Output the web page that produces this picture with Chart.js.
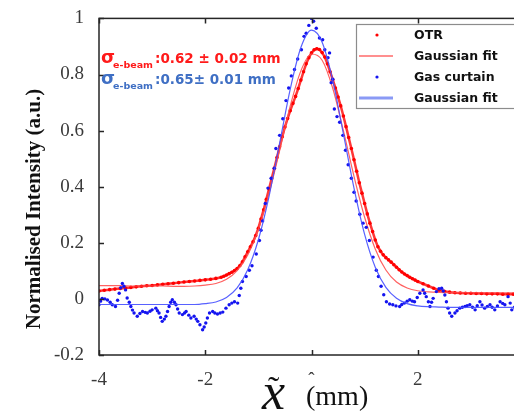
<!DOCTYPE html>
<html lang="en">
<head>
<meta charset="UTF-8">
<title>Normalised intensity profile</title>
<style>
  html, body { margin: 0; padding: 0; background: #fff; overflow: hidden; }
  #wrap { width: 540px; height: 412px; }
</style>
</head>
<body>
<div id="wrap"><canvas id="profileChart" width="540" height="412"></canvas></div>
<script src="https://cdn.jsdelivr.net/npm/chart.js"></script>
<script>
// OTR profile (mm, normalised)
const otrX = [-4.0, -3.9, -3.8, -3.7, -3.6, -3.5, -3.4, -3.3, -3.2, -3.1, -3.0, -2.9, -2.8, -2.7, -2.6, -2.5,
  -2.4, -2.3, -2.2, -2.1, -2.0, -1.9, -1.8, -1.7,
  -1.65, -1.6, -1.55, -1.5, -1.45, -1.4, -1.35, -1.3, -1.25, -1.2, -1.15, -1.1, -1.05, -1.0, -0.95, -0.9,
  -0.85, -0.8, -0.75, -0.7, -0.65, -0.6, -0.55, -0.5, -0.45, -0.4, -0.35, -0.3, -0.25, -0.2, -0.15, -0.1,
  -0.05, 0.0, 0.05, 0.1, 0.15, 0.2, 0.25, 0.3, 0.35, 0.4, 0.45, 0.5, 0.55, 0.6, 0.65, 0.7, 0.75, 0.8,
  0.85, 0.9, 0.95, 1.0, 1.05, 1.1, 1.15, 1.2, 1.25, 1.3, 1.35, 1.4, 1.45, 1.5, 1.55, 1.6, 1.65, 1.7,
  1.75, 1.8, 1.85, 1.9, 1.95, 2.0,
  2.1, 2.2, 2.3, 2.4, 2.5, 2.6, 2.7, 2.8, 2.9, 3.0, 3.1, 3.2, 3.3, 3.4, 3.5, 3.6, 3.7, 3.8, 3.9, 4.0];
const otrY = [0.028, 0.031, 0.033, 0.035, 0.037, 0.039, 0.041, 0.043, 0.045, 0.047, 0.048, 0.050, 0.052, 0.054, 0.056, 0.058,
  0.060, 0.062, 0.064, 0.066, 0.068, 0.070, 0.073, 0.077,
  0.081, 0.085, 0.090, 0.095, 0.101, 0.108, 0.118, 0.132, 0.150, 0.168, 0.186, 0.204, 0.226, 0.252, 0.285, 0.318,
  0.355, 0.392, 0.429, 0.466, 0.504, 0.542, 0.578, 0.613, 0.643, 0.671, 0.697, 0.722, 0.750, 0.780, 0.810, 0.838,
  0.860, 0.877, 0.888, 0.892, 0.889, 0.878, 0.862, 0.838, 0.810, 0.782, 0.752, 0.720, 0.688, 0.652, 0.614, 0.575, 0.536, 0.496,
  0.455, 0.414, 0.377, 0.340, 0.303, 0.270, 0.240, 0.210, 0.186, 0.170, 0.157, 0.147, 0.139, 0.131, 0.122, 0.113, 0.104, 0.096,
  0.089, 0.083, 0.077, 0.072, 0.067, 0.062,
  0.054, 0.046, 0.038, 0.031, 0.027, 0.024, 0.022, 0.021, 0.020, 0.020, 0.019, 0.019, 0.018, 0.018, 0.018, 0.017, 0.017, 0.017, 0.017, 0.016];

// gas curtain profile
const gasX = [-4.00, -3.97, -3.94, -3.89, -3.84, -3.79, -3.75, -3.69, -3.65, -3.62, -3.59, -3.56, -3.53, -3.50, -3.47, -3.43,
  -3.40, -3.37, -3.34, -3.28, -3.23, -3.18, -3.13, -3.09, -3.04, -3.00, -2.93, -2.90, -2.87, -2.84, -2.81, -2.77,
  -2.74, -2.71, -2.68, -2.65, -2.62, -2.58, -2.55, -2.52, -2.49, -2.43, -2.39, -2.36, -2.31, -2.27, -2.21, -2.17,
  -2.14, -2.10, -2.05, -2.02, -1.99, -1.96, -1.92, -1.86, -1.82, -1.77, -1.72, -1.67, -1.61, -1.55, -1.50, -1.45,
  -1.39, -1.36, -1.33, -1.30, -1.23, -1.17, -1.12, -1.04, -0.98, -0.95, -0.92, -0.87, -0.82, -0.76, -0.70, -0.67,
  -0.60, -0.54, -0.48, -0.43, -0.38, -0.32, -0.26, -0.19, -0.14, -0.10, -0.05, 0.00, 0.04, 0.09, 0.15, 0.21,
  0.25, 0.31, 0.34, 0.37, 0.40, 0.43, 0.48, 0.53, 0.59, 0.64, 0.69, 0.75, 0.80, 0.84, 0.91, 0.97,
  1.03, 1.09, 1.16, 1.22, 1.26, 1.31, 1.36, 1.41, 1.47, 1.53, 1.59, 1.66, 1.70, 1.75, 1.80, 1.85,
  1.90, 1.94, 1.99, 2.04, 2.10, 2.13, 2.16, 2.20, 2.23, 2.26, 2.29, 2.35, 2.40, 2.45, 2.48, 2.51,
  2.54, 2.57, 2.60, 2.64, 2.70, 2.74, 2.79, 2.84, 2.89, 2.93, 2.98, 3.03, 3.08, 3.12, 3.17, 3.21,
  3.26, 3.31, 3.36, 3.40, 3.45, 3.50, 3.55, 3.60, 3.64, 3.70, 3.74, 3.77, 3.82, 3.88];
const gasY = [-0.021, -0.008, 0.002, 0.000, -0.004, -0.012, -0.021, -0.027, -0.005, 0.020, 0.040, 0.055, 0.045, 0.032, 0.003, -0.012,
  -0.027, -0.040, -0.050, -0.062, -0.052, -0.045, -0.048, -0.050, -0.044, -0.039, -0.033, -0.042, -0.050, -0.066, -0.080, -0.072,
  -0.062, -0.045, -0.027, -0.012, -0.003, -0.012, -0.021, -0.036, -0.050, -0.056, -0.050, -0.045, -0.058, -0.068, -0.062, -0.072,
  -0.080, -0.092, -0.110, -0.100, -0.086, -0.068, -0.050, -0.045, -0.050, -0.054, -0.050, -0.047, -0.033, -0.021, -0.015, -0.010,
  -0.015, 0.012, 0.038, 0.062, 0.080, 0.102, 0.118, 0.160, 0.208, 0.245, 0.278, 0.340, 0.395, 0.430, 0.466, 0.536,
  0.583, 0.642, 0.707, 0.752, 0.795, 0.818, 0.855, 0.888, 0.936, 0.947, 0.975, 1.000, 0.990, 0.965, 0.930, 0.924,
  0.888, 0.860, 0.877, 0.771, 0.783, 0.677, 0.650, 0.630, 0.583, 0.530, 0.478, 0.430, 0.380, 0.349, 0.302, 0.270,
  0.255, 0.208, 0.149, 0.102, 0.080, 0.045, 0.015, -0.010, -0.018, -0.021, -0.025, -0.027, -0.020, -0.015, -0.008, -0.003,
  -0.008, -0.010, 0.005, 0.020, 0.032, 0.020, 0.008, -0.010, -0.027, -0.012, 0.002, 0.026, 0.036, 0.038, 0.028, 0.014,
  -0.010, -0.033, -0.050, -0.062, -0.050, -0.042, -0.033, -0.030, -0.027, -0.024, -0.021, -0.030, -0.039, -0.024, -0.010, -0.022,
  -0.033, -0.027, -0.021, -0.030, -0.039, -0.025, -0.010, -0.016, -0.021, 0.008, -0.015, -0.039, -0.030, -0.035];

// gaussian fit curves, sampled every 0.2 mm
const fitX = [-4.0, -3.8, -3.6, -3.4, -3.2, -3.0, -2.8, -2.6, -2.4, -2.2, -2.0, -1.8, -1.6, -1.4, -1.2, -1.0, -0.8,
  -0.6, -0.4, -0.2, 0.0, 0.2, 0.4, 0.6, 0.8, 1.0, 1.2, 1.4, 1.6, 1.8, 2.0, 2.2, 2.4, 2.6, 2.8, 3.0, 3.2, 3.4,
  3.6, 3.8, 4.0];
const otrFitY = [0.047, 0.047, 0.047, 0.046, 0.046, 0.046, 0.046, 0.045, 0.045, 0.046, 0.049, 0.055, 0.070, 0.101,
  0.157, 0.247, 0.375, 0.529, 0.688, 0.813, 0.873, 0.851, 0.751, 0.600, 0.437, 0.291, 0.178, 0.103, 0.060, 0.039,
  0.029, 0.025, 0.023, 0.022, 0.022, 0.022, 0.022, 0.022, 0.022, 0.022, 0.022];
const gasFitY = [-0.020, -0.020, -0.020, -0.020, -0.020, -0.020, -0.020, -0.020, -0.020, -0.020, -0.017, -0.011, 0.005,
  0.039, 0.104, 0.211, 0.365, 0.555, 0.748, 0.896, 0.958, 0.915, 0.779, 0.589, 0.395, 0.230, 0.113, 0.041, 0.002,
  -0.017, -0.025, -0.028, -0.029, -0.030, -0.030, -0.030, -0.030, -0.030, -0.030, -0.030, -0.030];

const xTickValues = [-4, -2, 0, 2, 4];
const xTickLabels = ['-4', '-2', 'ˆ', '2', '4'];
const yTickValues = [-0.2, 0, 0.2, 0.4, 0.6, 0.8, 1];
const yTickLabels = ['-0.2', '0', '0.2', '0.4', '0.6', '0.8', '1'];

const seriesLabels = ['OTR', 'Gaussian fit', 'Gas curtain', 'Gaussian fit'];
const sigmaLines = [
  { value: ':0.62 ± 0.02 mm', color: '#ff1a1a' },
  { value: ':0.65± 0.01 mm', color: '#3f6fc4' }
];

const serif = '"Liberation Serif", "Times New Roman", serif';
const sans = '"DejaVu Sans", Verdana, sans-serif';

const toPoints = (xs, ys) => xs.map((x, i) => ({ x: x, y: ys[i] }));

// frame, inward ticks, legend box, sigma labels and axis titles
const decorations = {
  id: 'decorations',
  afterDraw(chart) {
    const ctx = chart.ctx;
    const a = chart.chartArea;
    const xs = chart.scales.x, ys = chart.scales.y;
    ctx.save();

    ctx.strokeStyle = '#262626';
    ctx.lineWidth = 1.5;
    ctx.strokeRect(a.left, a.top, a.right - a.left, a.bottom - a.top);
    ctx.beginPath();
    xTickValues.forEach(v => {
      const px = Math.round(xs.getPixelForValue(v)) + 0.5;
      ctx.moveTo(px, a.bottom); ctx.lineTo(px, a.bottom - 5);
      ctx.moveTo(px, a.top); ctx.lineTo(px, a.top + 5);
    });
    yTickValues.forEach(v => {
      const py = Math.round(ys.getPixelForValue(v)) + 0.5;
      ctx.moveTo(a.left, py); ctx.lineTo(a.left + 5, py);
    });
    ctx.stroke();

    // legend
    const lx = 356.5, ly = 24.5;
    ctx.fillStyle = '#fff';
    ctx.fillRect(lx, ly, 170, 84);
    ctx.strokeStyle = '#8c8c8c';
    ctx.lineWidth = 1.2;
    ctx.strokeRect(lx, ly, 170, 84);
    const rows = [35, 56, 77, 98];
    const ds = chart.data.datasets;
    ctx.font = 'bold 12.5px ' + sans;
    ctx.textBaseline = 'middle';
    ds.forEach((d, i) => {
      const y = rows[i];
      if (d.showLine === false || d.kind === 'dots') {
        ctx.fillStyle = d.pointBackgroundColor;
        ctx.beginPath();
        ctx.arc(377, y, 1.6, 0, Math.PI * 2);
        ctx.fill();
      } else {
        ctx.strokeStyle = d.legendColor;
        ctx.lineWidth = d.legendWidth;
        ctx.beginPath();
        ctx.moveTo(359, y); ctx.lineTo(393, y);
        ctx.stroke();
      }
      ctx.fillStyle = '#111';
      ctx.textAlign = 'left';
      ctx.fillText(d.label, 414, y + 1);
    });

    // sigma annotations
    ctx.textBaseline = 'alphabetic';
    sigmaLines.forEach((s, i) => {
      const base = 63 + i * 21;
      ctx.fillStyle = s.color;
      ctx.font = 'bold 18px ' + sans;
      ctx.fillText('σ', 101, base);
      ctx.font = 'bold 9.5px ' + sans;
      ctx.fillText('e-beam', 113, base + 5);
      ctx.font = 'bold 13.5px ' + sans;
      ctx.fillText(s.value, 155, base);
    });

    // y title
    ctx.fillStyle = '#111';
    ctx.font = 'bold 21px ' + serif;
    ctx.textAlign = 'center';
    ctx.textBaseline = 'middle';
    ctx.translate(35, 209);
    ctx.rotate(-Math.PI / 2);
    ctx.fillText('Normalised Intensity (a.u.)', 0, 0);
    ctx.setTransform(1, 0, 0, 1, 0, 0);

    // x title
    ctx.textBaseline = 'alphabetic';
    ctx.textAlign = 'left';
    ctx.font = 'italic 52px ' + serif;
    ctx.fillText('x', 262, 409);
    ctx.font = '34px ' + serif;
    ctx.fillText('˜', 268, 400);
    ctx.font = '28px ' + serif;
    ctx.fillText('(mm)', 306, 405);

    ctx.restore();
  }
};

new Chart(document.getElementById('profileChart'), {
  type: 'scatter',
  data: {
    datasets: [
      {
        label: seriesLabels[0],
        kind: 'dots',
        data: toPoints(otrX, otrY),
        showLine: true,
        borderColor: 'rgba(255, 20, 20, 0.85)',
        borderWidth: 2.5,
        pointRadius: 1.8,
        pointBorderWidth: 0,
        pointBackgroundColor: '#ff0000',
        order: 3
      },
      {
        label: seriesLabels[1],
        type: 'line',
        data: toPoints(fitX, otrFitY),
        borderColor: 'rgba(255, 80, 80, 0.9)',
        borderWidth: 1.2,
        pointRadius: 0,
        cubicInterpolationMode: 'monotone',
        legendColor: '#ff6a6a',
        legendWidth: 1.5,
        order: 2
      },
      {
        label: seriesLabels[2],
        kind: 'dots',
        data: toPoints(gasX, gasY),
        showLine: false,
        pointRadius: 1.7,
        pointBorderWidth: 0,
        pointBackgroundColor: '#1414f0',
        order: 1
      },
      {
        label: seriesLabels[3],
        type: 'line',
        data: toPoints(fitX, gasFitY),
        borderColor: 'rgba(70, 80, 255, 0.9)',
        borderWidth: 1.2,
        pointRadius: 0,
        cubicInterpolationMode: 'monotone',
        legendColor: '#8a9af5',
        legendWidth: 3,
        order: 0
      }
    ]
  },
  options: {
    responsive: false,
    animation: false,
    layout: { padding: { top: 15, right: 16, left: 0, bottom: 0 } },
    plugins: {
      legend: { display: false },
      tooltip: { enabled: false }
    },
    scales: {
      x: {
        type: 'linear',
        min: -4,
        max: 4,
        grid: { display: false },
        border: { display: false },
        afterBuildTicks: s => { s.ticks = xTickValues.map(v => ({ value: v })); },
        afterFit: s => { s.height = 57; },
        ticks: {
          padding: 6,
          maxRotation: 0,
          color: '#3a3a3a',
          font: { family: serif, size: 19 },
          callback: v => xTickLabels[xTickValues.indexOf(v)] ?? ''
        }
      },
      y: {
        min: -0.2,
        max: 1,
        grid: { display: false },
        border: { display: false },
        afterBuildTicks: s => { s.ticks = yTickValues.map(v => ({ value: v })); },
        afterFit: s => { s.width = 99; },
        ticks: {
          padding: 7,
          color: '#3a3a3a',
          font: { family: serif, size: 19 },
          callback: v => {
            const i = yTickValues.findIndex(t => Math.abs(t - v) < 1e-9);
            return i >= 0 ? yTickLabels[i] : '';
          }
        }
      }
    }
  },
  plugins: [decorations]
});
</script>
</body>
</html>
